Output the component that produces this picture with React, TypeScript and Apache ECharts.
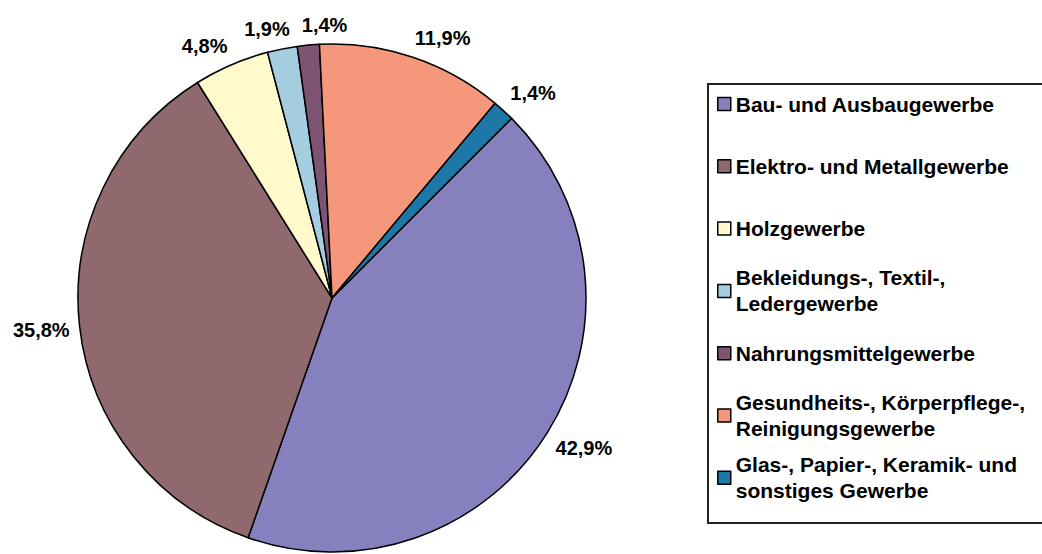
import React, { useEffect, useRef } from 'react';
import * as echarts from 'echarts';

const categories = [
  'Bau- und Ausbaugewerbe',
  'Elektro- und Metallgewerbe',
  'Holzgewerbe',
  'Bekleidungs-, Textil-, Ledergewerbe',
  'Nahrungsmittelgewerbe',
  'Gesundheits-, Körperpflege-, Reinigungsgewerbe',
  'Glas-, Papier-, Keramik- und sonstiges Gewerbe',
];
const legendLabels = [
  'Bau- und Ausbaugewerbe',
  'Elektro- und Metallgewerbe',
  'Holzgewerbe',
  'Bekleidungs-, Textil-,\nLedergewerbe',
  'Nahrungsmittelgewerbe',
  'Gesundheits-, Körperpflege-,\nReinigungsgewerbe',
  'Glas-, Papier-, Keramik- und\nsonstiges Gewerbe',
];
const values = [42.9, 35.8, 4.8, 1.9, 1.4, 11.9, 1.4];
const colors = ['#8681BE', '#8F696E', '#FFF9CC', '#A5CDE0', '#7F5472', '#F5977B', '#1D78A8'];

const FONT = 'Arial, "Liberation Sans", sans-serif';
const CX = 332;
const CY = 298;
const R = 254;
const START = 45; // degrees clockwise from 12 o'clock

export default function App() {
  const ref = useRef<HTMLDivElement>(null);
  useEffect(() => {
    const chart = echarts.init(ref.current!, null, { renderer: 'svg' });
    const total = values.reduce((a, b) => a + b, 0);
    const clamp = (v: number) => Math.max(-1, Math.min(1, v));

    const legends = categories.map((name, i) => {
      const lines = legendLabels[i].split('\n').length;
      const center = 104 + i * 62.3;
      return {
        show: true,
        orient: 'vertical',
        left: 717,
        top: center - (lines === 2 ? 39 : 13),
        padding: 0,
        itemWidth: 13,
        itemHeight: 13,
        itemGap: 0,
        icon: 'rect',
        selectedMode: false,
        data: [name],
        formatter: () => legendLabels[i],
        itemStyle: { borderColor: '#000', borderWidth: 1.5 },
        textStyle: {
          fontFamily: FONT,
          fontWeight: 'bold',
          fontSize: 21,
          color: '#000',
          lineHeight: 26,
          padding: lines === 2 ? [26, 0, 0, 0] : 0,
        },
      };
    });

    chart.setOption({
      animation: false,
      backgroundColor: '#fff',
      legend: legends,
      graphic: [
        {
          type: 'rect',
          shape: { x: 708, y: 84, width: 340, height: 439 },
          style: { fill: 'none', stroke: '#222', lineWidth: 2 },
          silent: true,
        },
      ],
      series: [
        {
          type: 'pie',
          center: [CX, CY],
          radius: R,
          startAngle: 90 - START,
          clockwise: true,
          avoidLabelOverlap: false,
          data: categories.map((name, i) => ({
            name,
            value: values[i],
            itemStyle: { color: colors[i] },
          })),
          itemStyle: { borderColor: '#000', borderWidth: 1.5 },
          label: {
            show: true,
            position: 'outside',
            fontFamily: FONT,
            fontWeight: 'bold',
            fontSize: 20,
            lineHeight: 20,
            padding: [0, 6],
            color: '#000',
            formatter: (p: any) => p.value.toFixed(1).replace('.', ',') + '%',
          },
          labelLine: { show: false },
          labelLayout: (p: any) => {
            const i = p.dataIndex;
            let cum = 0;
            for (let k = 0; k < i; k++) cum += values[k];
            const theta = ((START + ((cum + values[i] / 2) / total) * 360) * Math.PI) / 180;
            const s = Math.sin(theta);
            const c = Math.cos(theta);
            const g = 10;
            const ax = CX + (R + g) * s;
            const ay = CY - (R + g) * c;
            const w = p.labelRect.width - 12;
            const h = p.labelRect.height;
            const res: any = {
              x: ax + (w / 2) * clamp(3 * s),
              y: ay + (h / 2) * clamp(-3 * c),
              align: 'center',
              verticalAlign: 'middle',
            };
            if (c > 0.9) res.moveOverlap = 'shiftX';
            return res;
          },
          emphasis: { disabled: true },
        },
      ],
    });
    return () => chart.dispose();
  }, []);
  return (
    <div
      ref={ref}
      style={{ position: 'absolute', left: 0, top: 0, width: 1042, height: 554, background: '#fff' }}
    />
  );
}
